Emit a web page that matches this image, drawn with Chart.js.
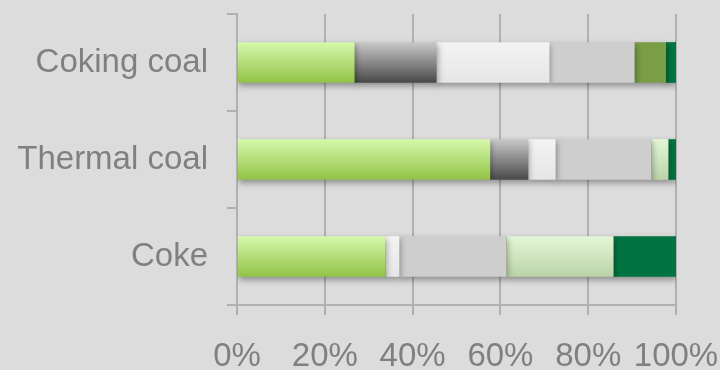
<!DOCTYPE html>
<html>
<head>
<meta charset="utf-8">
<script src="https://cdn.jsdelivr.net/npm/chart.js@4.4.1/dist/chart.umd.min.js"></script>
<style>
  html, body { margin: 0; padding: 0; background: #dcdcdc; }
  #wrap { width: 720px; height: 370px; }
</style>
</head>
<body>
<div id="wrap"><canvas id="coalChart" width="720" height="370"></canvas></div>
<script>
// data (share of each category, %)
const categories = ["Coking coal", "Thermal coal", "Coke"];
const seg1 = [26.7, 57.6, 33.7];
const seg2 = [18.7, 8.7, 0];
const seg3 = [25.7, 6.2, 3.2];
const seg4 = [19.4, 21.8, 24.4];
const seg5 = [7.1, 0, 0];
const seg6 = [0, 3.9, 24.4];
const seg7 = [2.4, 1.8, 14.3];
const xTicks = [0, 20, 40, 60, 80, 100];

const BAR_H = 40;

// vertical gradient per bar, placed with the y scale
function grad(top, bottom) {
    return (c) => {
        const chart = c.chart;
        const y = chart.scales && chart.scales.y;
        if (!y || c.dataIndex === undefined || !isFinite(y.getPixelForValue(c.dataIndex))) return bottom;
        const mid = y.getPixelForValue(c.dataIndex);
        const g = chart.ctx.createLinearGradient(0, mid - BAR_H / 2, 0, mid + BAR_H / 2);
        g.addColorStop(0, top);
        g.addColorStop(1, bottom);
        return g;
    };
}

const shadowPlugin = {
    id: "barShadow",
    beforeDatasetsDraw(chart) {
        const ctx = chart.ctx;
        ctx.save();
        ctx.shadowColor = "rgba(0,0,0,0.35)";
        ctx.shadowBlur = 6;
        ctx.shadowOffsetX = 1;
        ctx.shadowOffsetY = 3;
    },
    afterDatasetsDraw(chart) {
        chart.ctx.restore();
    }
};

const labelFont = { family: "Liberation Sans, Arial", size: 33, lineHeight: 1 };

const ctx = document.getElementById("coalChart");
new Chart(ctx, {
    type: "bar",
    data: {
        labels: categories,
        datasets: [
            { data: seg1, backgroundColor: grad("#d6f8ab", "#92c347") },
            { data: seg2, backgroundColor: grad("#c8c8c8", "#4a4a4a") },
            { data: seg3, backgroundColor: grad("#f3f3f3", "#e6e6e6") },
            { data: seg4, backgroundColor: "#cecece" },
            { data: seg5, backgroundColor: "#7a9e46" },
            { data: seg6, backgroundColor: grad("#e3f6d7", "#bcd3a8") },
            { data: seg7, backgroundColor: "#007440" },
        ],
    },
    options: {
        indexAxis: "y",
        responsive: false,
        animation: false,
        barThickness: BAR_H,
        borderWidth: 0,
        layout: { padding: { left: 0, right: 0, top: 14, bottom: 0 } },
        plugins: { legend: { display: false }, tooltip: { enabled: false } },
        scales: {
            x: {
                stacked: true,
                min: 0,
                max: 100,
                afterBuildTicks: (s) => { s.ticks = xTicks.map(v => ({ value: v })); },
                afterFit: (s) => { s.height = 65; s.paddingLeft = 0; s.paddingRight = 44; },
                ticks: {
                    callback: (v) => v + "%",
                    color: "#808080",
                    font: labelFont,
                    padding: 25,
                    maxRotation: 0,
                },
                grid: { color: "#b0b0b0", lineWidth: 2, tickLength: 10 },
                border: { color: "#b0b0b0", width: 2 },
            },
            y: {
                stacked: true,
                afterFit: (s) => { s.width = 237; s.paddingTop = 0; s.paddingBottom = 0; },
                ticks: {
                    color: "#808080",
                    font: labelFont,
                    padding: 19,
                },
                grid: { drawOnChartArea: false, color: "#b0b0b0", lineWidth: 2, tickLength: 10 },
                border: { color: "#b0b0b0", width: 2 },
            },
        },
    },
    plugins: [shadowPlugin],
});
</script>
</body>
</html>
